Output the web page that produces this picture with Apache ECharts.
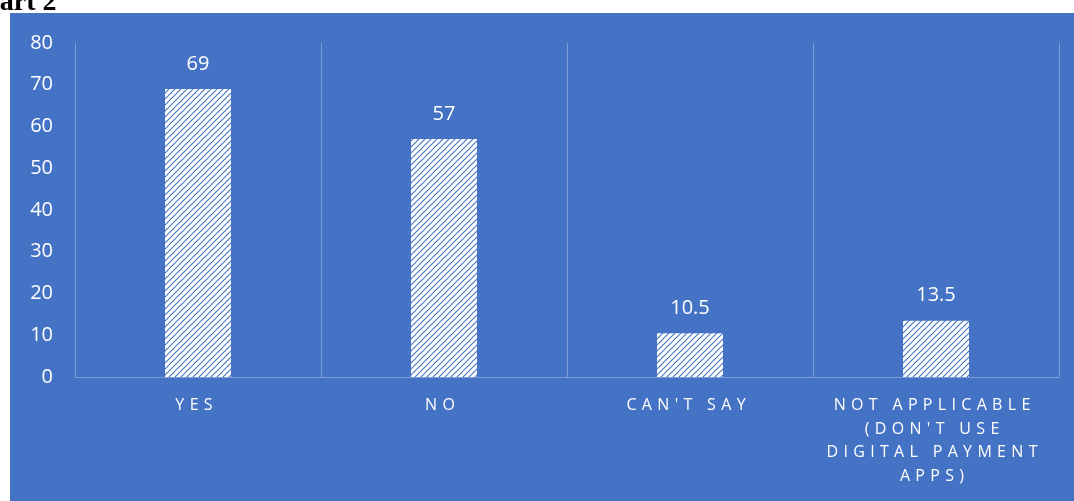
<!DOCTYPE html>
<html><head><meta charset="utf-8">
<script src="https://cdn.jsdelivr.net/npm/echarts@6/dist/echarts.min.js"></script>
<style>html,body{margin:0;padding:0;background:#fff;}#c{width:1074px;height:501px;}</style>
</head><body><div id="c"></div>
<script>
const categories = ["YES", "NO", "CAN'T SAY", "NOT APPLICABLE (DON'T USE DIGITAL PAYMENT APPS)"];
const values = [69, 57, 10.5, 13.5];
const yTicks = { min: 0, max: 80, interval: 10 };
const titleText = "Chart 2";

function spaced(s){ return s.split('').join('\u2004'); }
function wrap(label, maxLen){
  const words = label.split(' '); const lines = []; let cur = '';
  words.forEach(w => { const t = cur ? cur + ' ' + w : w; if (t.length > maxLen && cur) { lines.push(cur); cur = w; } else cur = t; });
  if (cur) lines.push(cur);
  return lines.map(l => l.split(' ').map(spaced).join('\u2004 \u2004') + '\u2004\u2006').join('\n');
}

const pc = document.createElement('canvas'); pc.width = 6; pc.height = 6;
const g = pc.getContext('2d');
g.fillStyle = '#ffffff'; g.fillRect(0,0,6,6);
g.strokeStyle = '#4472C4'; g.lineWidth = 1.1;
g.beginPath(); g.moveTo(-1,7); g.lineTo(7,-1); g.moveTo(-4,4); g.lineTo(4,-4); g.moveTo(2,10); g.lineTo(10,2); g.stroke();

const chart = echarts.init(document.getElementById('c'));
chart.setOption({
  animation: false,
  textStyle: { fontFamily: 'Open Sans' },
  graphic: [
    { type: 'rect', z: -10, shape: { x: 10, y: 13, width: 1064, height: 488 }, style: { fill: '#4472C4' } },
    { type: 'text', left: -36, top: -11, style: { text: titleText, font: 'bold 28px "Liberation Serif"', fill: '#000' } }
  ],
  grid: { left: 75, right: 15, top: 43, bottom: 124 },
  xAxis: {
    type: 'category', data: categories,
    axisLine: { lineStyle: { color: 'rgba(255,255,255,0.3)' } },
    axisTick: { show: false },
    splitLine: { show: true, interval: 0, lineStyle: { color: 'rgba(255,255,255,0.3)' } },
    axisLabel: { color: '#fff', fontSize: 16, lineHeight: 23.5, margin: 17, interval: 0, formatter: v => wrap(v, 15) }
  },
  yAxis: {
    type: 'value', min: yTicks.min, max: yTicks.max, interval: yTicks.interval,
    axisLine: { show: false }, axisTick: { show: false }, splitLine: { show: false },
    axisLabel: { color: '#fff', fontSize: 20, margin: 22 }
  },
  series: [{
    type: 'bar', data: values, barWidth: 66,
    itemStyle: { color: { image: pc, repeat: 'repeat' } },
    label: { show: true, position: 'top', distance: 15, color: '#fff', fontSize: 20 }
  }]
});
</script></body></html>
